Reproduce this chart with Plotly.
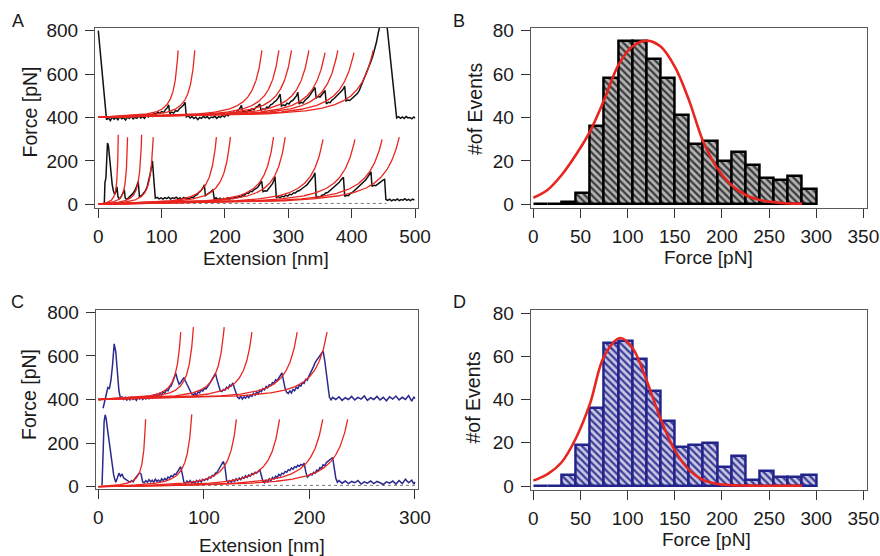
import numpy as np
import plotly.graph_objects as go

# ---------------- data ----------------
# Panel A: force-extension traces (upper trace offset by +400 pN)
a_top_x = [0, 13, 16, 19, 22, 25, 28, 31, 34, 37, 40, 43, 46, 49, 52, 55, 58, 61, 64, 67, 70, 73, 76, 79, 82, 85, 88, 91, 94, 97,
           100, 103, 106, 109, 111, 113, 116, 119, 122, 125, 128, 131, 134, 137, 139, 142, 145, 148, 151, 154, 157, 160, 163, 166,
           169, 172, 175, 178, 181, 184, 187, 190, 193, 196, 199, 202, 205, 208, 211, 214, 217, 220, 223, 226, 228, 231, 234, 237,
           240, 243, 246, 249, 252, 255, 257, 260, 263, 266, 269, 272, 275, 278, 281, 284, 287, 289, 292, 295, 298, 301, 304, 307,
           310, 313, 315, 317, 320, 323, 326, 329, 332, 335, 338, 340, 342, 344, 347, 350, 353, 356, 358, 360, 363, 366, 369, 372,
           375, 378, 381, 384, 387, 389, 391, 394, 397, 400, 403, 406, 409, 412, 415, 418, 421, 424, 427, 430, 433, 436, 439, 442,
           444, 456, 471, 474, 477, 480, 483, 486, 489, 492, 495, 498, 500]
a_top_y = [800, 390, 398, 386, 402, 392, 400, 390, 404, 394, 399, 388, 402, 395, 405, 393, 401, 396, 408, 398, 404, 396, 410, 402, 412, 405, 420, 415, 426, 418,
           428, 422, 436, 445, 458, 418, 425, 420, 432, 428, 440, 446, 455, 470, 402, 408, 398, 404, 395, 402, 390, 400, 396, 405,
           398, 404, 394, 402, 399, 406, 396, 404, 400, 410, 402, 412, 408, 418, 414, 425, 420, 432, 440, 456, 424, 428, 422, 432,
           430, 440, 436, 448, 452, 462, 432, 440, 436, 448, 446, 458, 462, 472, 478, 490, 508, 452, 458, 454, 466, 462, 474, 478,
           490, 500, 516, 462, 470, 466, 478, 484, 494, 506, 520, 530, 538, 490, 496, 494, 506, 514, 524, 462, 470, 468, 480, 486,
           494, 502, 512, 522, 532, 544, 476, 480, 478, 486, 490, 500, 510, 524, 545, 570, 590, 610, 632, 655, 680, 710, 745, 790,
           815, 815, 398, 404, 396, 402, 395, 404, 398, 400, 394, 402, 397]

a_bot_x = [9.5, 10.5, 12, 13, 14.5, 16, 17.5, 19, 20.5, 22, 24, 26, 28, 29.5, 31, 33, 35, 37, 39, 41, 42.5, 45, 48, 51, 54, 57, 60,
           63, 65, 68, 71, 74, 77, 80, 82, 84, 85.5, 87, 88.5, 90, 93, 96, 99, 102, 105, 108, 111, 114, 117, 120, 123, 126, 129,
           132, 135, 138, 141, 144, 147, 150, 153, 156, 159, 162, 165, 167.5, 169, 172, 175, 178, 181, 183, 186, 189, 192, 195,
           198, 201, 204, 207, 210, 213, 216, 219, 222, 225, 228, 231, 234, 237, 240, 243, 246, 249, 252, 255, 258, 260, 263,
           266, 269, 272, 275, 277, 279, 281, 284, 287, 290, 293, 296, 299, 302, 305, 308, 311, 314, 317, 320, 323, 326, 329,
           332, 335, 338, 340, 342, 344, 347, 350, 353, 356, 359, 362, 365, 368, 371, 374, 377, 380, 383, 387, 389, 392, 395,
           398, 401, 404, 407, 410, 413, 416, 419, 422, 425, 428, 430.5, 432, 435, 438, 441, 444, 447, 450, 452, 454, 457, 460,
           463, 466, 469, 472, 475, 478, 481, 484, 487, 490, 493, 496, 499]
a_bot_y = [5, 100, 120, 230, 282, 270, 230, 170, 120, 90, 60, 45, 60, 80, 35, 25, 30, 40, 52, 68, 28, 22, 30, 38, 48, 60, 78,
           105, 35, 40, 48, 60, 80, 110, 140, 175, 200, 140, 60, 28, 32, 25, 30, 24, 31, 26, 33, 24, 30, 27, 33, 25, 30,
           24, 32, 26, 30, 24, 34, 30, 40, 45, 55, 62, 75, 90, 40, 45, 50, 58, 68, 25, 30, 22, 28, 20,
           27, 22, 30, 24, 30, 26, 34, 30, 38, 34, 44, 42, 52, 50, 60, 58, 68, 72, 80, 92, 106, 58, 62,
           60, 72, 80, 95, 110, 128, 30, 36, 30, 38, 34, 42, 38, 46, 44, 52, 52, 60, 62, 70, 74, 82, 88,
           98, 108, 122, 132, 145, 30, 36, 34, 42, 44, 52, 54, 62, 68, 76, 82, 92, 100, 112, 124, 36, 42, 40,
           50, 54, 62, 68, 76, 84, 92, 102, 112, 124, 138, 150, 82, 88, 86, 94, 100, 106, 112, 115, 22, 18, 24,
           16, 22, 18, 25, 17, 22, 19, 26, 18, 23, 17, 24, 20]

# WLC fit curves, panel A: contour lengths [nm] and rupture-end force [pN]
a_top_contour = [138.8, 167.8, 284.6, 314.1, 336.0, 366.2, 395.0, 416.5, 445.4, 478.0]
a_top_fmax = [312, 318, 312, 315, 312, 315, 308, 312, 306, 312]
a_bot_contour = [34.7, 50.9, 75.3, 95.5, 205.4, 229.7, 304.8, 325.1, 391.5, 447.1, 494.5, 523.4]
a_bot_fmax = [327, 318, 330, 318, 312, 312, 312, 318, 305, 305, 305, 310]

# Panel C: force-extension traces (upper trace offset by +400 pN)
c_top_x = [4.5, 6, 7.5, 9, 10.5, 12, 13.5, 15, 16.5, 18, 19.5, 21, 22.5, 24, 25.5, 27, 28.5, 30, 31.5, 33, 34.5, 36, 37.5, 39,
           40.5, 42, 43.5, 45, 46.5, 48, 49.5, 51, 52.5, 54, 55.5, 57, 58.5, 60, 61.5, 63, 64.5, 66, 67.5, 69, 70.5, 72, 73.5,
           75, 76.5, 78, 79.5, 81, 82.5, 84, 85.5, 87, 88.5, 90, 91.5, 93, 94.5, 96, 97.5, 99, 100.5, 102, 103.5, 105, 106.5,
           108, 109.5, 111, 112.5, 114, 115.5, 117, 118.5, 120, 121.5, 123, 124.5, 126, 127.5, 129, 130.5, 132, 133.5, 135,
           136.5, 138, 139.5, 141, 142.5, 144, 145.5, 147, 148.5, 150, 151.5, 153, 154.5, 156, 157.5, 159, 160.5, 162, 163.5,
           165, 166.5, 168, 169.5, 171, 172.5, 174, 175.5, 177, 178.5, 180, 181.5, 183, 184.5, 186, 187.5, 189, 190.5, 192,
           193.5, 195, 196.5, 198, 199.5, 201, 202.5, 204, 205.5, 207, 208.5, 210, 211.5, 213, 214.5, 216, 217.5, 219, 220.5,
           222, 225, 228, 231, 234, 237, 240, 243, 246, 249, 252, 255, 258, 261, 264, 267, 270, 273, 276, 279, 282, 285, 288,
           291, 294, 297, 299, 300]
c_top_y = [360, 390, 430, 455, 450, 490, 560, 655, 620, 520, 440, 405, 412, 400, 410, 396, 408, 398, 412, 400, 406, 396, 410, 402,
           414, 400, 408, 402, 418, 404, 412, 406, 420, 410, 424, 414, 428, 420, 436, 430, 445, 440, 456, 462, 480, 500, 520,
           490, 470, 478, 490, 500, 485, 470, 455, 440, 425, 420, 430, 418, 436, 430, 444, 438, 452, 448, 462, 470, 482,
           494, 505, 520, 490, 460, 440, 436, 446, 442, 456, 450, 466, 462, 476, 450, 425, 410, 404, 414,
           402, 412, 406, 418, 408, 420, 414, 428, 420, 434, 426, 442, 436, 450, 444, 460, 454, 468, 464,
           478, 474, 490, 486, 502, 510, 522, 480, 450, 432, 428, 440, 430, 446, 440, 456, 450, 466, 462,
           478, 474, 492, 488, 506, 520, 540, 552, 570, 580, 592, 600, 610, 622, 580, 520, 460, 410, 398,
           410, 400, 412, 396, 408, 400, 414, 398, 410, 402, 416, 396, 408, 400, 414, 398, 410, 394, 412, 402, 416, 398, 410,
           400, 418, 392, 412, 404]

c_bot_x = [3.5, 4.5, 5.5, 6.5, 7.5, 8.5, 9.5, 10.5, 11.5, 12.5, 13.5, 14.5, 15.5, 16.5, 18, 19.5, 21, 22.5, 24, 25.5, 27, 28.5,
           30, 31.5, 33, 34.5, 36, 37.5, 39, 40.5, 42, 43.5, 45, 46.5, 48, 49.5, 51, 52.5, 54, 55.5, 57, 58.5, 60, 61.5, 63,
           64.5, 66, 67.5, 69, 70.5, 72, 73.5, 75, 76.5, 78, 79.5, 81, 82.5, 84, 85.5, 87, 88.5, 90, 91.5, 93, 94.5, 96, 97.5,
           99, 100.5, 102, 103.5, 105, 106.5, 108, 109.5, 111, 112.5, 114, 115.5, 117, 118.5, 120, 121.5, 123, 124.5, 126,
           127.5, 129, 130.5, 132, 133.5, 135, 136.5, 138, 139.5, 141, 142.5, 144, 145.5, 147, 148.5, 150, 151.5, 153, 154.5,
           156, 157.5, 159, 160.5, 162, 163.5, 165, 166.5, 168, 169.5, 171, 172.5, 174, 175.5, 177, 178.5, 180, 181.5, 183,
           184.5, 186, 187.5, 189, 190.5, 192, 193.5, 195, 196.5, 198, 199.5, 201, 202.5, 204, 205.5, 207, 208.5, 210, 211.5,
           213, 214.5, 216, 217.5, 219, 220.5, 222, 223.5, 225, 226.5, 228, 231, 234, 237, 240, 243, 246, 249, 252, 255, 258,
           261, 264, 267, 270, 273, 276, 279, 282, 285, 288, 291, 294, 297, 299, 300]
c_bot_y = [5, 180, 300, 330, 310, 270, 230, 190, 150, 110, 80, 55, 35, 20, 40, 62, 48, 58, 40, 36, 30, 25,
           20, 28, 22, 36, 44, 56, 64, 58, 22, 18, 28, 20, 32, 22, 30, 20, 34, 24, 30, 22, 36, 28, 38,
           30, 44, 40, 50, 46, 58, 56, 68, 78, 92, 60, 22, 14, 26, 18, 28, 16, 24, 14, 28, 20, 30, 22,
           34, 28, 36, 32, 44, 40, 52, 50, 62, 66, 78, 88, 102, 116, 90, 30, 18, 28, 20,
           32, 24, 36, 28, 40, 32, 44, 38, 50, 42, 54, 48, 60, 56, 66, 62, 72, 78, 50,
           24, 18, 30, 22, 36, 28, 42, 36, 48, 42, 56, 50, 62, 58, 70, 66, 78, 74, 86,
           80, 92, 88, 98, 94, 102, 98, 108, 70, 44, 50, 58, 54, 66, 62, 76, 72, 88, 84,
           100, 96, 110, 116, 124, 128, 134, 90, 40, 20, 28, 16, 26, 14, 24, 18, 28, 12, 22, 16, 26,
           14, 24, 18, 10, 22, 16, 26, 12, 28, 14, 34, 18, 30, 12, 22]

# WLC fit curves, panel C
c_top_contour = [86.0, 98.9, 130.9, 160.3, 207.6, 238.8]
c_top_fmax = [319, 342, 335, 319, 311, 311]
c_bot_contour = [49.3, 97.2, 144.1, 189.1, 234.3, 260.3]
c_bot_fmax = [314, 332, 310, 316, 316, 314]

# Approach (baseline) dotted traces
a_dots_x = [45, 455]
a_dots_y = [4, 4]
c_dots_x = [30, 300]
c_dots_y = [6, 6]

# Histograms (15 pN bins)
bin_left = [0, 15, 30, 45, 60, 75, 90, 105, 120, 135, 150, 165, 180, 195, 210, 225, 240, 255, 270, 285]
b_counts = [0, 0, 1, 5, 36, 58, 75, 75, 67, 58, 41, 28, 29, 20, 24, 18, 12, 11, 13, 7]
d_counts = [0, 0, 5, 19, 36, 66, 67, 59, 44, 30, 18, 19, 20, 9, 14, 3, 7, 4, 4, 5]

# Fitted curves
b_fit_x = [0, 15, 30, 45, 60, 75, 90, 105, 120, 135, 150, 165, 180, 195, 210, 225, 240, 255, 270, 285]
b_fit_y = [3, 6.6, 13.5, 22.7, 33.5, 48, 64, 72.7, 75.4, 72.7, 63.4, 48, 29, 16.6, 8.9, 4.3, 2, 1, 0.4, 0.3]
d_fit_x = [0, 15, 30, 45, 60, 75, 92, 105, 120, 135, 150, 165, 180, 195, 210, 225, 240, 285]
d_fit_y = [2.5, 5.5, 11, 22, 38, 60, 68.5, 64, 49, 31, 16.5, 7.5, 2.8, 1, 0.4, 0.2, 0.1, 0.1]

# ---------------- figure ----------------
W, H = 880, 556
KT_OVER_P = 10.3  # pN (kT / persistence length of the WLC fits)

RED = "#e8251f"
BLACK = "#111111"
NAVY = "#2a2a8e"
FONT = "Liberation Sans, Arial, sans-serif"


def dx(a, b):
    return [a / W, b / W]


def dy(top, bottom):
    return [1 - bottom / H, 1 - top / H]


def wlc_curve(L, fmax, offset):
    ext = np.linspace(0, L * 0.985, 600)
    r = ext / L
    f = KT_OVER_P * (0.25 / (1 - r) ** 2 - 0.25 + r)
    keep = f <= fmax
    return ext[keep], f[keep] + offset


fig = go.Figure()


def add_fits(contours, fmaxes, offset, xa, ya):
    for L, fm in zip(contours, fmaxes):
        xs, ys = wlc_curve(L, fm, offset)
        fig.add_trace(go.Scatter(x=xs, y=ys, mode="lines", line=dict(color=RED, width=1.3),
                                 xaxis=xa, yaxis=ya, hoverinfo="skip"))


# Panel A
fig.add_trace(go.Scatter(x=a_dots_x, y=a_dots_y, mode="lines", line=dict(color="#777", width=1, dash="dot"),
                         xaxis="x", yaxis="y"))
fig.add_trace(go.Scatter(x=a_top_x, y=a_top_y, mode="lines", line=dict(color=BLACK, width=1.5), xaxis="x", yaxis="y"))
fig.add_trace(go.Scatter(x=a_bot_x, y=a_bot_y, mode="lines", line=dict(color=BLACK, width=1.5), xaxis="x", yaxis="y"))
add_fits(a_top_contour, a_top_fmax, 400, "x", "y")
add_fits(a_bot_contour, a_bot_fmax, 0, "x", "y")

# Panel C
fig.add_trace(go.Scatter(x=c_dots_x, y=c_dots_y, mode="lines", line=dict(color="#777", width=1, dash="dot"),
                         xaxis="x3", yaxis="y3"))
fig.add_trace(go.Scatter(x=c_top_x, y=c_top_y, mode="lines", line=dict(color=NAVY, width=1.5), xaxis="x3", yaxis="y3"))
fig.add_trace(go.Scatter(x=c_bot_x, y=c_bot_y, mode="lines", line=dict(color=NAVY, width=1.5), xaxis="x3", yaxis="y3"))
add_fits(c_top_contour, c_top_fmax, 400, "x3", "y3")
add_fits(c_bot_contour, c_bot_fmax, 0, "x3", "y3")

# Panel B histogram
centers = [b + 7.5 for b in bin_left]
fig.add_trace(go.Bar(x=centers, y=b_counts, width=15, xaxis="x2", yaxis="y2",
                     marker=dict(color="#b4b4b4", line=dict(color="#000000", width=2.5),
                                 pattern=dict(shape="\\", fgcolor="#3a3a3a", bgcolor="#b4b4b4",
                                              size=5, solidity=0.45, fillmode="replace"))))
fig.add_trace(go.Scatter(x=b_fit_x, y=b_fit_y, mode="lines", line=dict(color=RED, width=2.6, shape="spline"),
                         xaxis="x2", yaxis="y2"))

# Panel D histogram
fig.add_trace(go.Bar(x=centers, y=d_counts, width=15, xaxis="x4", yaxis="y4",
                     marker=dict(color="#c4c4de", line=dict(color="#23238c", width=2.5),
                                 pattern=dict(shape="\\", fgcolor="#3c3c98", bgcolor="#c8c8e2",
                                              size=5, solidity=0.45, fillmode="replace"))))
fig.add_trace(go.Scatter(x=d_fit_x, y=d_fit_y, mode="lines", line=dict(color=RED, width=2.6, shape="spline"),
                         xaxis="x4", yaxis="y4"))

axis_common = dict(showline=True, linecolor="#5a5a5a", linewidth=1, mirror=True, ticks="outside",
                   ticklen=9, tickwidth=1.3, tickcolor="#333", showgrid=False, zeroline=False,
                   automargin=False,
                   tickfont=dict(family=FONT, size=19, color="#1a1a1a"))

fig.update_layout(
    width=W, height=H, autosize=False, margin=dict(l=0, r=0, t=0, b=0, pad=0, autoexpand=False),
    paper_bgcolor="white", plot_bgcolor="white", showlegend=False, bargap=0,
    xaxis=dict(axis_common, domain=dx(95, 418), range=[-5.2, 504.7], tickvals=[0, 100, 200, 300, 400, 500],
               anchor="y", ticklabelstandoff=2),
    yaxis=dict(axis_common, domain=dy(28, 208), range=[-17, 812], tickvals=[0, 200, 400, 600, 800],
               anchor="x", ticklabelstandoff=3),
    xaxis2=dict(axis_common, domain=dx(530.7, 866.7), range=[-2.8, 353.5], tickvals=list(range(0, 351, 50)),
                anchor="y2", ticklabelstandoff=2),
    yaxis2=dict(axis_common, domain=dy(28, 208), range=[-1.7, 81.2], tickvals=[0, 20, 40, 60, 80],
                anchor="x2", ticklabelstandoff=3),
    xaxis3=dict(axis_common, domain=dx(95.7, 418.3), range=[-2.5, 303.2], tickvals=[0, 100, 200, 300],
                anchor="y3", ticklabelstandoff=2),
    yaxis3=dict(axis_common, domain=dy(310, 489.3), range=[-12, 810.5], tickvals=[0, 200, 400, 600, 800],
                anchor="x3", ticklabelstandoff=3),
    xaxis4=dict(axis_common, domain=dx(530.7, 866.7), range=[-2.8, 353.5], tickvals=list(range(0, 351, 50)),
                anchor="y4", ticklabelstandoff=2),
    yaxis4=dict(axis_common, domain=dy(310, 490), range=[-1.85, 81.5], tickvals=[0, 20, 40, 60, 80],
                anchor="x4", ticklabelstandoff=3),
)


def ann(text, px, py, size=19.5, angle=0):
    fig.add_annotation(text=text, x=px / W, y=1 - py / H, xref="paper", yref="paper",
                       showarrow=False, xanchor="center", yanchor="middle", textangle=angle,
                       font=dict(family=FONT, size=size, color="#1a1a1a"))


ann("A", 17.5, 21.5, 18)
ann("B", 459, 21.5, 18)
ann("C", 17.5, 302.5, 18)
ann("D", 459, 302.5, 18)
ann("Extension [nm]", 265.5, 258.5, 19)
ann("Extension [nm]", 262, 545, 19)
ann("Force [pN]", 708, 257, 19)
ann("Force [pN]", 706.7, 539, 19)
ann("Force [pN]", 29.5, 112, angle=-90)
ann("Force [pN]", 29, 394, angle=-90)
ann("#of Events", 474.5, 109.5, angle=-90)
ann("#of Events", 472.5, 398, angle=-90)

fig.write_html("out.html", config={"responsive": False, "displayModeBar": False},
               post_script="document.body.style.margin='0';document.body.style.overflow='hidden';")
